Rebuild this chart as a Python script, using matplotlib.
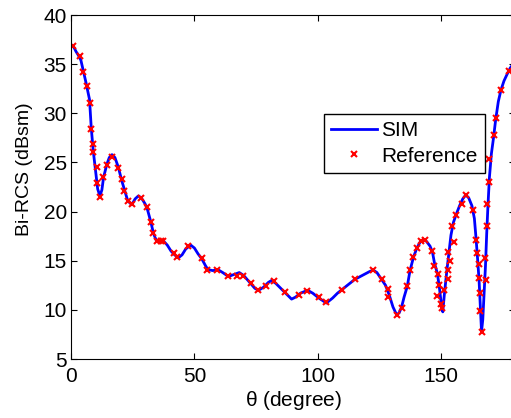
import matplotlib.pyplot as plt

plt.rcParams['font.family'] = ['Liberation Sans', 'DejaVu Sans']

# simulated bistatic RCS
sim_theta = [0, 1, 2, 3, 4, 5, 6, 7, 7.5, 8.2, 9.0, 10.0, 10.8, 11.7, 12.5, 13.2,
             14.5, 15.5, 16.6, 17.8, 19.2, 20.5, 21.8, 23.0, 24.6, 26.0, 27.3, 28.5,
             30.0, 31.0, 32.4, 33.4, 34.5, 36.0, 37.5, 39.0, 40.5, 42.0, 43.5, 45.0,
             46.5, 48.5, 50.0, 51.5, 53.0, 54.5, 55.5, 57.5, 59.5, 61.5, 63.8, 66.0,
             68.2, 70.0, 72.8, 74.5, 76.0, 78.0, 80.0, 81.3, 83.0, 85.0, 87.0, 89.4,
             91.0, 93.0, 95.9, 98.0, 100.5, 103.5, 106.0, 108.0, 110.0, 112.5, 115.0,
             118.0, 121.0, 122.5, 124.0, 125.9, 127.5, 129.0, 130.5, 132.0, 133.0,
             134.0, 135.0, 136.3, 137.4, 138.8, 140.1, 141.5, 142.8, 144.0, 145.5,
             146.5, 147.3, 148.5, 149.3, 150.0, 150.7, 151.3, 152.3, 153.0, 154.0,
             155.0, 156.1, 157.5, 158.8, 160.0, 161.2, 162.5, 163.5, 164.2, 164.8,
             165.4, 165.9, 166.4, 166.9, 167.4, 168.0, 168.5, 169.0, 169.6, 170.4,
             171.2, 172.1, 173.2, 174.3, 175.5, 176.8, 178.0, 180.0]
sim_rcs = [37.0, 36.8, 36.3, 35.9, 35.4, 34.3, 33.2, 32.0, 31.4, 28.5, 26.2, 24.0,
           22.3, 21.6, 22.2, 23.5, 24.8, 25.5, 25.8, 25.5, 24.5, 23.2, 22.1, 21.1,
           20.7, 21.3, 21.6, 21.4, 20.8, 20.2, 18.9, 17.8, 17.1, 16.9, 17.0, 16.6,
           16.0, 15.6, 15.3, 15.6, 16.2, 16.6, 16.3, 15.7, 15.2, 14.5, 14.1, 14.0,
           14.1, 13.8, 13.4, 13.6, 13.8, 13.5, 12.7, 12.2, 12.0, 12.3, 12.8, 13.0,
           12.7, 12.2, 11.7, 11.1, 11.3, 11.7, 12.0, 11.7, 11.2, 10.7, 11.2, 11.7,
           12.1, 12.6, 13.1, 13.5, 13.9, 14.05, 13.8, 13.1, 12.5, 11.5, 10.3, 9.5,
           9.7, 10.3, 11.3, 12.4, 14.0, 15.35, 16.25, 16.9, 17.15, 17.0, 16.5, 15.9,
           14.8, 13.7, 12.3, 10.8, 9.8, 11.5, 13.9, 15.4, 17.6, 18.9, 19.7, 20.6,
           21.3, 21.7, 21.4, 20.6, 19.3, 17.2, 15.2, 13.0, 10.5, 7.8, 9.0, 11.5,
           14.5, 17.8, 20.6, 23.5, 25.9, 27.4, 29.3, 31.2, 32.4, 33.3, 34.0, 34.6,
           35.3]

# reference data points
ref_theta = [0.7, 3.8, 5.0, 6.5, 7.8, 8.2, 8.8, 8.9, 10.4, 10.4, 11.9, 13.1, 14.6,
             16.8, 19.2, 20.8, 21.6, 23.0, 24.6, 28.4, 30.7, 32.4, 33.4, 35.0, 36.3,
             37.2, 41.8, 43.1, 47.6, 53.0, 55.3, 59.3, 63.8, 67.2, 69.8, 72.8, 75.9,
             79.0, 82.3, 86.7, 92.5, 95.5, 100.5, 103.4, 109.7, 115.1, 122.5, 125.9,
             128.4, 128.6, 132.0, 134.0, 136.3, 137.4, 138.8, 140.1, 141.9, 143.5,
             146.5, 147.1, 148.6, 149.3, 148.5, 150.0, 150.3, 151.3, 152.9, 152.9,
             153.6, 152.9, 155.4, 154.6, 156.1, 158.4, 160.0, 163.1, 164.2, 164.4,
             165.5, 165.5, 165.8, 165.8, 166.5, 168.2, 167.8, 168.7, 168.7, 169.6,
             169.6, 171.6, 172.1, 174.3, 177.5]
ref_rcs = [36.9, 35.8, 34.2, 32.8, 31.1, 28.4, 26.9, 26.1, 24.5, 22.9, 21.5, 23.5,
           24.7, 25.6, 24.4, 23.3, 22.1, 21.1, 20.8, 21.4, 20.5, 18.9, 17.8, 17.0,
           17.0, 17.0, 15.75, 15.35, 16.5, 15.25, 14.1, 14.1, 13.4, 13.4, 13.4, 12.7,
           12.0, 12.4, 12.9, 11.85, 11.5, 11.9, 11.3, 10.8, 12.0, 13.1, 14.05, 13.1,
           12.1, 11.3, 9.5, 10.2, 12.4, 14.1, 15.35, 16.25, 17.0, 17.1, 16.0, 14.5,
           13.7, 12.5, 11.4, 10.6, 10.2, 12.0, 13.1, 14.1, 15.0, 15.9, 16.9, 18.5,
           19.65, 20.8, 21.7, 20.2, 17.1, 15.75, 14.7, 13.2, 11.7, 9.9, 7.8, 13.0,
           15.25, 18.5, 20.8, 23.0, 25.4, 27.8, 29.5, 32.4, 34.3]

fig = plt.figure(figsize=(5.11, 4.18), dpi=100)
ax = fig.add_axes([0.139, 0.141, 0.869, 0.823])

ax.plot(sim_theta, sim_rcs, color='#0000ff', lw=2, label='SIM')
ax.plot(ref_theta, ref_rcs, 'x', color='#ff0000', ms=4.5, mew=1.5,
        label='Reference')

ax.set_xlim(0, 180)
ax.set_ylim(5, 40)
ax.set_xticks([0, 50, 100, 150])
ax.set_yticks(range(5, 41, 5))
ax.tick_params(direction='in', top=True, right=True, labelsize=15, length=4)
ax.tick_params(axis='x', pad=6)
ax.tick_params(axis='y', pad=3)
ax.set_xlabel(r'$\mathregular{\theta}$ (degree)', fontsize=15, labelpad=2)
ax.set_ylabel('Bi-RCS (dBsm)', fontsize=14)
ax.yaxis.set_label_coords(-0.085, 0.552)

ax.legend(loc='upper left', bbox_to_anchor=(0.57, 0.712), fontsize=15,
          fancybox=False, edgecolor='black', framealpha=1, borderpad=0.35,
          handlelength=2.2, handletextpad=0.2, labelspacing=0.3,
          borderaxespad=0)

fig.savefig('out.png', dpi=100)
